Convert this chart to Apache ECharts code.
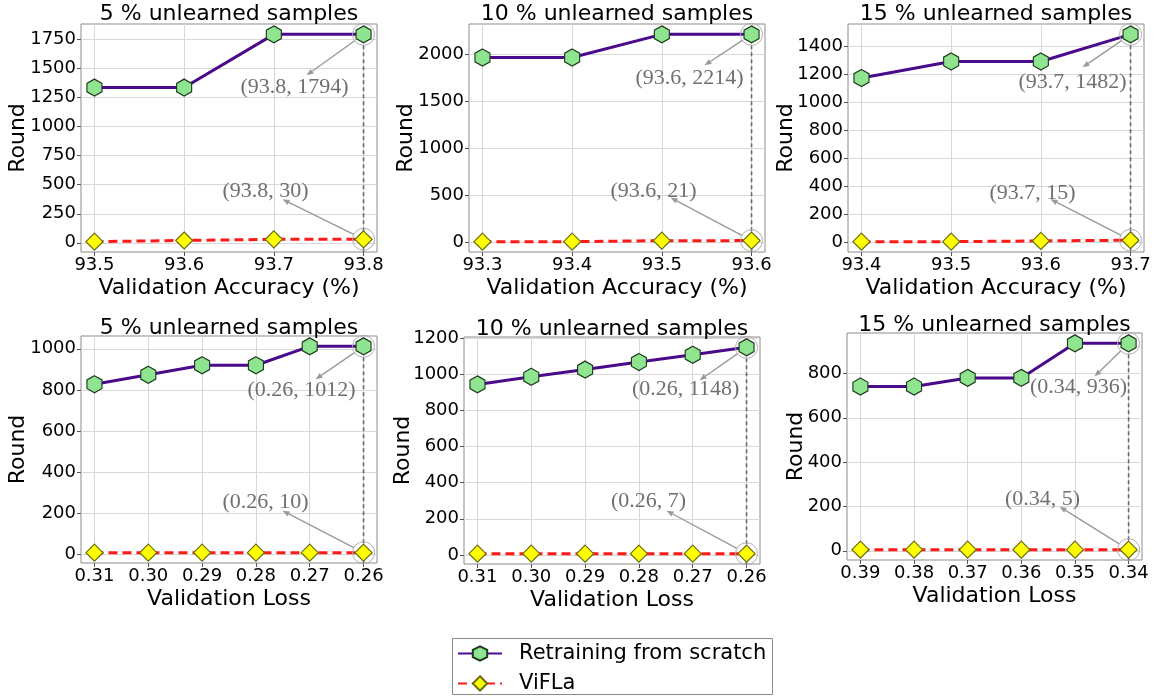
<!DOCTYPE html>
<html><head><meta charset="utf-8">
<script src="https://cdn.jsdelivr.net/npm/echarts@6/dist/echarts.min.js"></script>
<style>html,body{margin:0;padding:0;background:#fff}#c{width:1161px;height:696px}</style>
</head><body><div id="c"></div>
<script>
// ---------- DATA ----------
const seriesNames = ['Retraining from scratch', 'ViFLa'];
const titles = ['5 % unlearned samples', '10 % unlearned samples', '15 % unlearned samples',
                '5 % unlearned samples', '10 % unlearned samples', '15 % unlearned samples'];
const xAxisNames = ['Validation Accuracy (%)', 'Validation Accuracy (%)', 'Validation Accuracy (%)',
                    'Validation Loss', 'Validation Loss', 'Validation Loss'];
const yAxisName = 'Round';

const accX5  = [93.5, 93.6, 93.7, 93.8];
const accX10 = [93.3, 93.4, 93.5, 93.6];
const accX15 = [93.4, 93.5, 93.6, 93.7];
const lossX5  = [0.31, 0.30, 0.29, 0.28, 0.27, 0.26];
const lossX10 = [0.31, 0.30, 0.29, 0.28, 0.27, 0.26];
const lossX15 = [0.39, 0.38, 0.37, 0.36, 0.35, 0.34];

const retrainAcc5  = [1336, 1336, 1794, 1794];
const viflaAcc5    = [10, 20, 30, 30];
const retrainAcc10 = [1968, 1968, 2214, 2214];
const viflaAcc10   = [10, 10, 20, 21];
const retrainAcc15 = [1171, 1289, 1289, 1482];
const viflaAcc15   = [5, 5, 10, 15];
const retrainLoss5  = [828, 874, 920, 920, 1012, 1012];
const viflaLoss5    = [10, 10, 10, 10, 10, 10];
const retrainLoss10 = [943, 985, 1025, 1067, 1107, 1148];
const viflaLoss10   = [7, 7, 7, 7, 7, 7];
const retrainLoss15 = [741, 741, 780, 780, 936, 936];
const viflaLoss15   = [5, 5, 5, 5, 5, 5];

const yTicksAcc5  = [0, 250, 500, 750, 1000, 1250, 1500, 1750];
const yTicksAcc10 = [0, 500, 1000, 1500, 2000];
const yTicksAcc15 = [0, 200, 400, 600, 800, 1000, 1200, 1400];
const yTicksLoss5  = [0, 200, 400, 600, 800, 1000];
const yTicksLoss10 = [0, 200, 400, 600, 800, 1000, 1200];
const yTicksLoss15 = [0, 200, 400, 600, 800];

// ---------- LAYOUT ----------
const panels = [
  {x: accX5,  r: retrainAcc5,  v: viflaAcc5,  yt: yTicksAcc5,  dec: 1, inv: false},
  {x: accX10, r: retrainAcc10, v: viflaAcc10, yt: yTicksAcc10, dec: 1, inv: false},
  {x: accX15, r: retrainAcc15, v: viflaAcc15, yt: yTicksAcc15, dec: 1, inv: false},
  {x: lossX5,  r: retrainLoss5,  v: viflaLoss5,  yt: yTicksLoss5,  dec: 2, inv: true},
  {x: lossX10, r: retrainLoss10, v: viflaLoss10, yt: yTicksLoss10, dec: 2, inv: true},
  {x: lossX15, r: retrainLoss15, v: viflaLoss15, yt: yTicksLoss15, dec: 2, inv: true}
];
const grids = [
  {left: 81,  top: 24,  width: 296, height: 228},
  {left: 469, top: 24,  width: 296, height: 228},
  {left: 848, top: 24,  width: 296, height: 228},
  {left: 81,  top: 336, width: 296, height: 227},
  {left: 464, top: 337, width: 296, height: 227},
  {left: 847, top: 333, width: 295, height: 227}
];
const titleY = [14.5, 14.5, 14.5, 328, 329, 325];
const yNameGap = [52, 52, 51, 52, 50, 40];
// annotation offsets (pixels from the annotated point): arrow end, text centre
const annTop = [[-57, 41, -69, 53], [-47, 31, -62, 44], [-48, 33, -58, 48],
                [-48, 33, -62, 44], [-47, 33, -61, 42], [-34, 33, -50, 44]];
const annBot = [[-81, -40, -98, -48], [-81, -43, -98, -49], [-80, -41, -98, -47],
                [-81, -42, -98, -50], [-80, -43, -98, -52], [-69, -43, -86, -50]];
const legendBox = {x: 452.5, y: 638.5, width: 320, height: 56};
const legendTops = [643, 673];

const FONT = 'DejaVu Sans';
const hexPath = 'path://M0,-10L8.66,-5L8.66,5L0,10L-8.66,5L-8.66,-5Z';

function margin5(arr) {
  const mn = Math.min(...arr), mx = Math.max(...arr), d = (mx - mn) * 0.05;
  return [mn - d, mx + d];
}

const option = {
  animation: false,
  backgroundColor: '#fff',
  grid: [], xAxis: [], yAxis: [], series: [], graphic: [],
  legend: seriesNames.map((nm, k) => ({
    data: [nm],
    orient: 'vertical',
    left: 457, top: legendTops[k],
    padding: 0,
    itemWidth: 44, itemHeight: 18,
    textStyle: {fontFamily: FONT, fontSize: 21, color: '#000', padding: [0, 0, 0, 12]}
  }))
};
option.graphic.push({type: 'rect', z: 0, shape: legendBox, style: {fill: '#fff', stroke: '#8a8a8a', lineWidth: 1}});

panels.forEach((p, i) => {
  const g = grids[i];
  option.grid.push(Object.assign({show: true, borderColor: '#8c8c8c', borderWidth: 1, backgroundColor: '#fff', containLabel: false}, g));
  const xr = margin5(p.x);
  const yr = margin5(p.r.concat(p.v));
  option.xAxis.push({
    type: 'value', gridIndex: i, min: xr[0], max: xr[1], inverse: p.inv,
    name: xAxisNames[i], nameLocation: 'middle', nameGap: 25, nameMoveOverlap: false,
    nameTextStyle: {fontFamily: FONT, fontSize: 22, color: '#000'},
    axisLine: {show: false, onZero: false},
    axisTick: {show: true, inside: false, length: 4, customValues: p.x, lineStyle: {color: '#555'}},
    axisLabel: {customValues: p.x, margin: 4, fontFamily: FONT, fontSize: 18, color: '#000',
                formatter: v => Number(v).toFixed(p.dec)},
    splitLine: {show: true, lineStyle: {color: '#d8d8d8', width: 1}}
  });
  option.yAxis.push({
    type: 'value', gridIndex: i, min: yr[0], max: yr[1],
    name: yAxisName, nameLocation: 'middle', nameGap: yNameGap[i], nameMoveOverlap: false,
    nameTextStyle: {fontFamily: FONT, fontSize: 22, color: '#000'},
    axisLine: {show: false, onZero: false},
    axisTick: {show: true, inside: false, length: 4, customValues: p.yt, lineStyle: {color: '#555'}},
    axisLabel: {customValues: p.yt, margin: 5, fontFamily: FONT, fontSize: 18, color: '#000',
                formatter: v => String(Math.round(v))},
    splitLine: {show: true, lineStyle: {color: '#d8d8d8', width: 1}}
  });
  option.series.push({
    type: 'line', name: seriesNames[0], xAxisIndex: i, yAxisIndex: i,
    data: p.x.map((x, k) => [x, p.r[k]]),
    symbol: hexPath, symbolSize: [15, 17],
    lineStyle: {color: '#4b0a8c', width: 3},
    itemStyle: {color: '#8fe48f', borderColor: '#1e3a1e', borderWidth: 1.2},
    z: 4, clip: false
  });
  option.series.push({
    type: 'line', name: seriesNames[1], xAxisIndex: i, yAxisIndex: i,
    data: p.x.map((x, k) => [x, p.v[k]]),
    symbol: 'diamond', symbolSize: 17,
    lineStyle: {color: '#ff1a1a', width: 3, type: [9, 5]},
    itemStyle: {color: '#ffff00', borderColor: '#6b6b10', borderWidth: 1.2},
    z: 3, clip: false
  });
  option.graphic.push({
    type: 'text', x: g.left + g.width / 2, y: titleY[i], z: 10,
    style: {text: titles[i], fontFamily: FONT, fontSize: 22, fill: '#000', align: 'center', verticalAlign: 'middle'}
  });
});

const chart = echarts.init(document.getElementById('c'), null, {renderer: 'canvas'});
chart.setOption(option);

// ---------- annotations derived from data through the axes ----------
const extra = option.graphic.slice();
const R = 11;
function arrow(P, ex, ey) {
  const E = [P[0] + ex, P[1] + ey];
  const dx = E[0] - P[0], dy = E[1] - P[1], L = Math.hypot(dx, dy);
  const ux = dx / L, uy = dy / L;
  const S = [P[0] + ux * R, P[1] + uy * R];
  const hl = 7, hw = 2.8;
  const B = [E[0] - ux * hl, E[1] - uy * hl];
  extra.push({type: 'line', z: 5, shape: {x1: S[0], y1: S[1], x2: B[0], y2: B[1]},
              style: {stroke: '#9a9a9a', lineWidth: 1.4}});
  extra.push({type: 'polygon', z: 5, shape: {points: [E, [B[0] - uy * hw, B[1] + ux * hw], [B[0] + uy * hw, B[1] - ux * hw]]},
              style: {fill: '#9a9a9a'}});
}
panels.forEach((p, i) => {
  const n = p.x.length - 1;
  const g = grids[i];
  const Pt = chart.convertToPixel({gridIndex: i}, [p.x[n], p.r[n]]);
  const Pb = chart.convertToPixel({gridIndex: i}, [p.x[n], p.v[n]]);
  extra.push({type: 'line', z: 1, shape: {x1: Pt[0], y1: Pt[1] + R, x2: Pt[0], y2: g.top + g.height},
              style: {stroke: '#6a6a6a', lineWidth: 1.6, lineDash: [4, 3]}});
  [Pt, Pb].forEach(P => extra.push({type: 'circle', z: 5, shape: {cx: P[0], cy: P[1], r: R},
              style: {fill: 'none', stroke: '#b0b0b0', lineWidth: 1}}));
  const a = annTop[i], b = annBot[i];
  arrow(Pt, a[0], a[1]);
  arrow(Pb, b[0], b[1]);
  const fx = p.x[n].toFixed(p.dec);
  extra.push({type: 'text', z: 10, x: Pt[0] + a[2], y: Pt[1] + a[3],
              style: {text: '(' + fx + ', ' + p.r[n] + ')', fontFamily: 'Liberation Serif', fontSize: 22, fill: '#707070', align: 'center', verticalAlign: 'middle'}});
  extra.push({type: 'text', z: 10, x: Pb[0] + b[2], y: Pb[1] + b[3],
              style: {text: '(' + fx + ', ' + p.v[n] + ')', fontFamily: 'Liberation Serif', fontSize: 22, fill: '#707070', align: 'center', verticalAlign: 'middle'}});
});
chart.setOption({graphic: extra});
</script>
</body></html>
